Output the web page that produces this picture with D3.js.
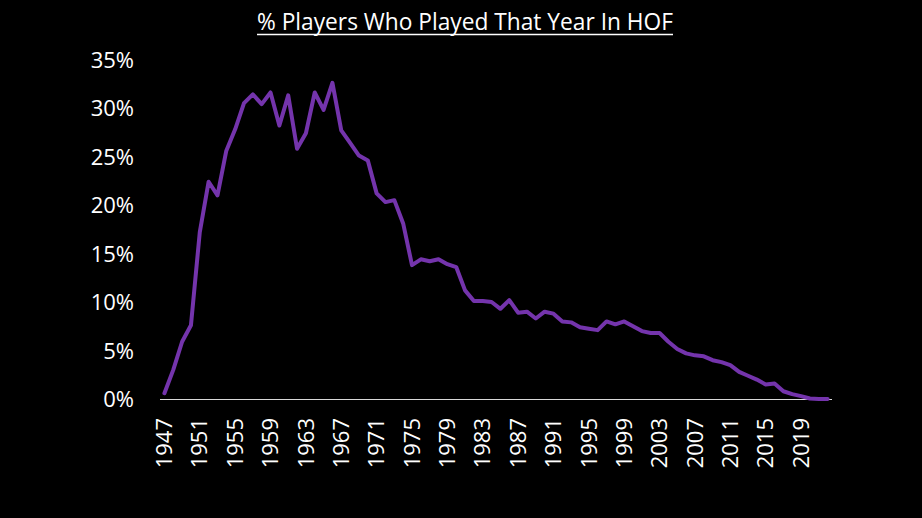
<!DOCTYPE html>
<html>
<head>
<meta charset="utf-8">
<script src="https://cdn.jsdelivr.net/npm/d3@7"></script>
<style>
  html, body { margin: 0; padding: 0; background: #000; }
  svg { display: block; }
</style>
</head>
<body>
<svg id="chart" width="922" height="518"></svg>
<script>
const title = "% Players Who Played That Year In HOF";
const years = d3.range(1947, 2023);
const pctHOF = [
  0.6, 3.0, 5.9, 7.6, 17.2, 22.4, 21.0, 25.6, 27.8, 30.5,
  31.4, 30.4, 31.6, 28.2, 31.3, 25.8, 27.4, 31.6, 29.8, 32.6,
  27.7, 26.4, 25.1, 24.6, 21.2, 20.3, 20.5, 18.1, 13.8, 14.4,
  14.2, 14.4, 13.9, 13.6, 11.2, 10.1, 10.1, 10.0, 9.3, 10.2,
  8.9, 9.0, 8.3, 9.0, 8.8, 8.0, 7.9, 7.4, 7.25, 7.1,
  8.0, 7.7, 8.0, 7.5, 7.0, 6.8, 6.8, 5.9, 5.15, 4.7,
  4.5, 4.4, 4.0, 3.8, 3.5, 2.8, 2.4, 2.0, 1.5, 1.6,
  0.8, 0.5, 0.3, 0.05, 0.0, 0.0
];
const yTicks = [0, 5, 10, 15, 20, 25, 30, 35];
const xTickYears = d3.range(1947, 2020, 4);

(function () {
const svg = d3.select("#chart");
const W = 922, H = 518;
const mLeft = 160, mRight = 832, mTop = 59.5, mBottom = 399;
const font = "'Open Sans', 'Liberation Sans', sans-serif";

svg.append("rect").attr("width", W).attr("height", H).attr("fill", "#000");

const x = d3.scaleBand().domain(years).range([mLeft, mRight]).paddingInner(0).paddingOuter(0);
const y = d3.scaleLinear().domain([0, 35]).range([mBottom, mTop]);
const cx = d => x(d) + x.bandwidth() / 2;

// title
const t = svg.append("text")
  .attr("x", 465).attr("y", 30)
  .attr("text-anchor", "middle")
  .attr("fill", "#fff")
  .style("font-family", font)
  .style("font-size", "22px")
  .text(title);
let tl = t.node().getComputedTextLength();
const targetW = 416;
const fs = 22 * targetW / tl;
t.style("font-size", fs + "px");
tl = t.node().getComputedTextLength();
svg.append("line")
  .attr("x1", 465 - tl / 2).attr("x2", 465 + tl / 2)
  .attr("y1", 34.5).attr("y2", 34.5)
  .attr("stroke", "#fff").attr("stroke-width", 1.6);

// y axis labels (no line)
const yAxis = d3.axisLeft(y).tickValues(yTicks).tickSize(0).tickPadding(0)
  .tickFormat(d => d + "%");
const gy = svg.append("g").attr("transform", `translate(${134},0)`).call(yAxis);
gy.select(".domain").remove();
gy.selectAll("text")
  .attr("fill", "#fff")
  .attr("dy", "0.35em")
  .style("font-family", font)
  .style("font-size", "22px");

// x axis
const xAxis = d3.axisBottom(x).tickValues(xTickYears).tickSize(0).tickPadding(0);
const gx = svg.append("g").attr("transform", `translate(0,${mBottom})`).call(xAxis);
gx.select(".domain").attr("stroke", "#d9d9d9").attr("stroke-width", 1.2)
  .attr("d", `M${mLeft},0.5H${mRight}`);
gx.selectAll("text")
  .attr("fill", "#fff")
  .style("font-family", font)
  .style("font-size", "22px")
  .attr("text-anchor", "end")
  .attr("transform", "translate(0,19) rotate(-90)")
  .attr("x", 0).attr("y", 0)
  .attr("dy", "0.35em");

// line
const line = d3.line()
  .x((d, i) => cx(years[i]))
  .y(d => y(d));
svg.append("path")
  .datum(pctHOF)
  .attr("d", line)
  .attr("fill", "none")
  .attr("stroke", "#7434AC")
  .attr("stroke-width", 4)
  .attr("stroke-linejoin", "round")
  .attr("stroke-linecap", "round");
})();
</script>
</body>
</html>
